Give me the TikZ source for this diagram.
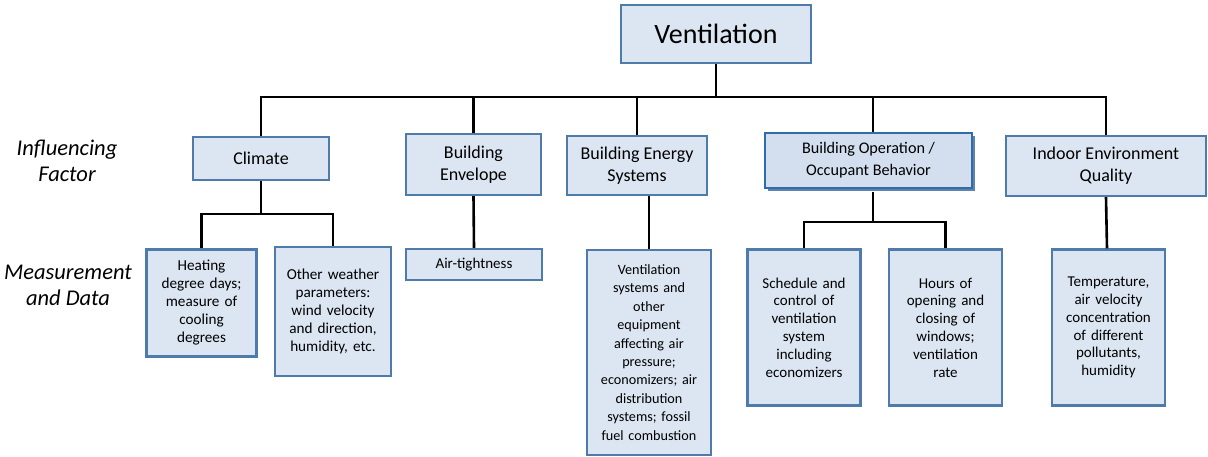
\documentclass[tikz,border=0pt]{standalone}
\usepackage{fontspec}
\setmainfont{Carlito}
\definecolor{boxfill}{HTML}{DCE6F2}
\definecolor{boxline}{HTML}{4F7BAA}
\definecolor{opfill}{HTML}{D3DFEF}
\definecolor{opline}{HTML}{2F6DAA}
\definecolor{opshadow}{HTML}{5D82B0}
\begin{document}
\begin{tikzpicture}[x=1pt,y=-1pt,
  box/.style={draw=boxline,fill=boxfill,line width=2.4pt,align=center,inner sep=2pt},
  topbox/.style={box,font=\fontsize{18}{22}\selectfont},
  databox/.style={box,font=\fontsize{15.2}{18}\selectfont,text width=#1},
  conn/.style={line width=2.6pt,black},
  side/.style={font=\fontsize{22.5}{26}\selectfont\itshape,align=center}]
\useasboundingbox (0,0) rectangle (1208,457);
% nodes
\node[box,font=\fontsize{28}{30}\selectfont,minimum width=190pt,minimum height=58pt] (vent) at (716,34) {Ventilation};
\node[topbox,minimum width=136pt,minimum height=43pt] (climate) at (261,158.5) {Climate};
\node[topbox,minimum width=135pt,minimum height=61pt] (env) at (473.5,164.5) {Building\\Envelope};
\node[topbox,minimum width=140pt,minimum height=59pt] (bes) at (637,165.5) {Building Energy\\Systems};
\fill[opshadow] (768,136) rectangle (975,191);
\node[draw=opline,fill=opfill,line width=1.8pt,align=center,font=\fontsize{16.2}{22}\selectfont,minimum width=207pt,minimum height=55pt] (bop) at (868.5,160.5) {Building Operation /\\Occupant Behavior};
\node[topbox,minimum width=200pt,minimum height=60pt] (ieq) at (1106,166) {Indoor Environment\\Quality};
\node[databox=106pt,minimum width=110pt,minimum height=107pt] (heat) at (201.5,303) {Heating\\degree days;\\measure of\\cooling\\degrees};
\node[databox=110pt,minimum width=116pt,minimum height=129pt] (other) at (333,311.5) {Other weather\\parameters:\\wind velocity\\and direction,\\humidity, etc.};
\node[box,font=\fontsize{15}{18}\selectfont,minimum width=136pt,minimum height=31pt] (air) at (474,264.5) {Air-tightness};
\node[databox=120pt,font=\fontsize{14.2}{18.4}\selectfont,minimum width=124pt,minimum height=205pt] (vsys) at (649,352.5) {Ventilation\\systems and\\other\\equipment\\affecting air\\pressure;\\economizers; air\\distribution\\systems; fossil\\fuel combustion};
\node[databox=106pt,font=\fontsize{15}{17.8}\selectfont,minimum width=113pt,minimum height=156pt] (sched) at (804,327.5) {Schedule and\\control of\\ventilation\\system\\including\\economizers};
\node[databox=106pt,font=\fontsize{15}{17.8}\selectfont,minimum width=113pt,minimum height=156pt] (hours) at (945.5,327.5) {Hours of\\opening and\\closing of\\windows;\\ventilation\\rate};
\node[databox=106pt,font=\fontsize{15}{17.8}\selectfont,minimum width=113pt,minimum height=156pt] (temp) at (1108.5,327.5) {Temperature,\\air velocity\\concentration\\of different\\pollutants,\\humidity};
% side labels
\node[side] (inf) at (67,161) {Influencing\\Factor};
\node[side] (meas) at (68,285) {Measurement\\and Data};
% connectors
\coordinate (bar) at (716,97);
\coordinate (cbar) at (261,214);
\coordinate (obar) at (873,222);
\draw[conn] (vent.south) -- (bar);
\draw[conn] (bar) -| (climate.north);
\draw[conn] (bar) -| (env.north);
\draw[conn] (bar) -| (bes.north);
\draw[conn] (bar) -| ([xshift=4.5pt]bop.north);
\draw[conn] (bar) -| (ieq.north);
\draw[conn] (climate.south) -- (cbar);
\draw[conn] (cbar) -| (heat.north);
\draw[conn] (cbar) -| (other.north);
\draw[conn] (env.south) -- (air.north);
\draw[conn] ([xshift=12pt]bes.south) -- (vsys.north);
\draw[conn] ([xshift=4.5pt,yshift=-3pt]bop.south) -- (obar);
\draw[conn] (obar) -| (sched.north);
\draw[conn] (obar) -| (hours.north);
\draw[conn] (ieq.south) -- ([xshift=-1.5pt]temp.north);
\end{tikzpicture}
\end{document}
